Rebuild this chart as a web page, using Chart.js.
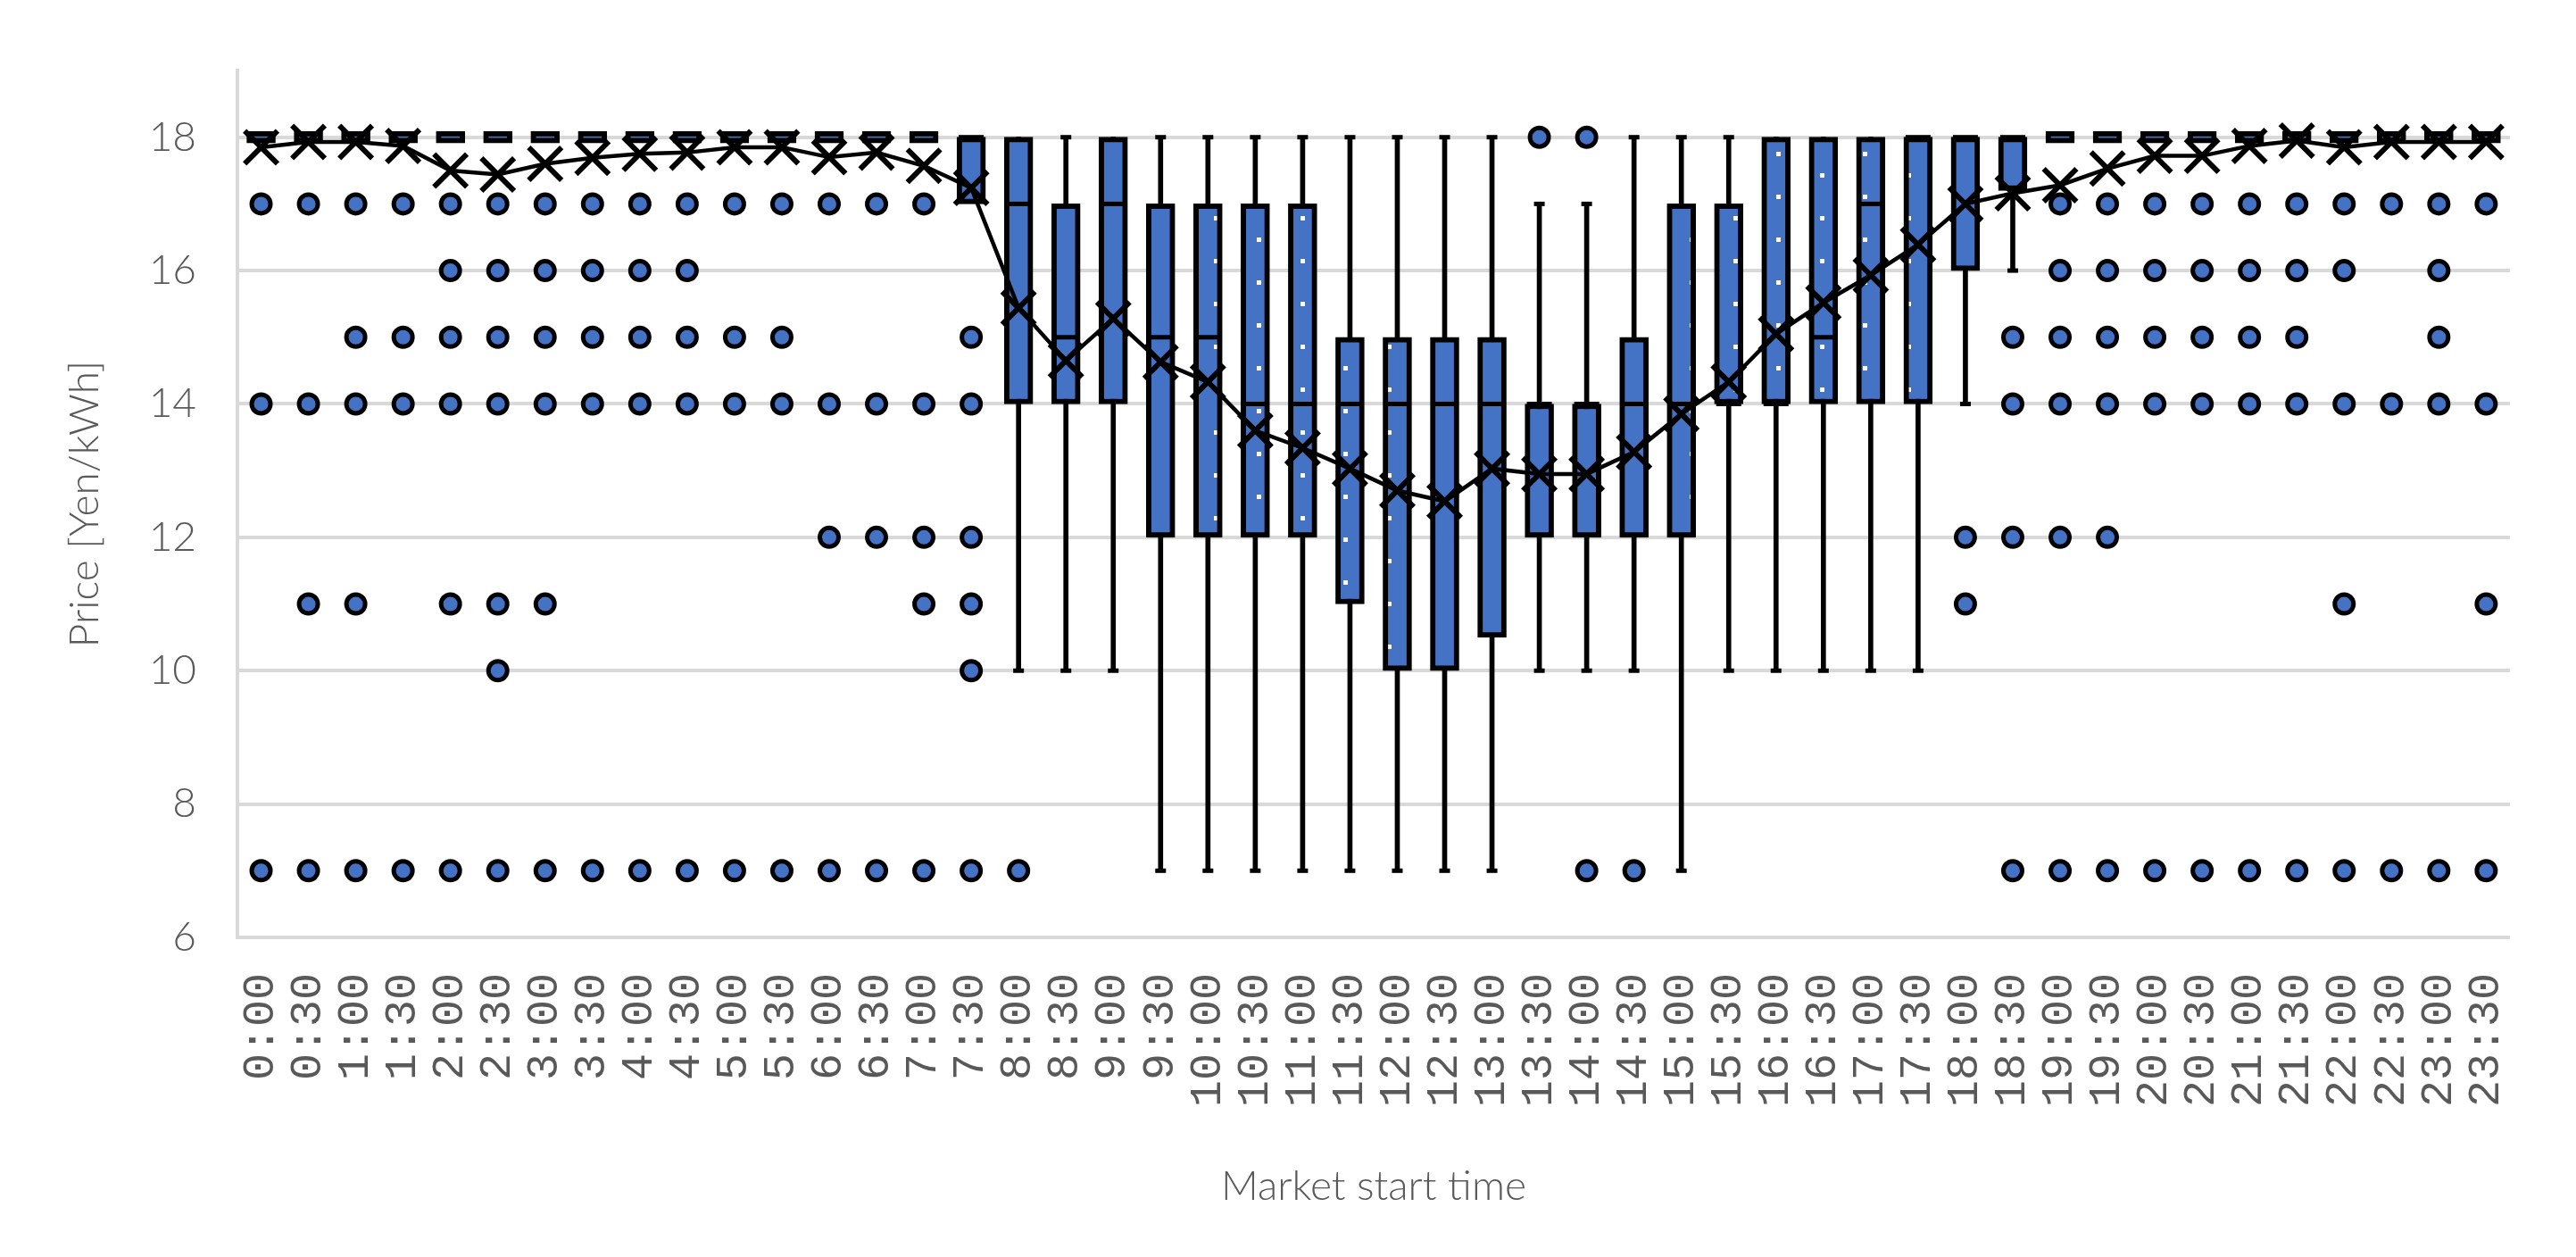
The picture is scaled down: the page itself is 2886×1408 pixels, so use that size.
<!DOCTYPE html>
<html>
<head>
<meta charset="utf-8">
<title>Price by market start time</title>
<script src="https://cdn.jsdelivr.net/npm/chart.js@4.4.1/dist/chart.umd.min.js"></script>
<style>
  html, body { margin: 0; padding: 0; background: #ffffff; }
  #wrap { width: 2886px; height: 1408px; }
</style>
</head>
<body>
<div id="wrap"><canvas id="chart" width="2886" height="1408"></canvas></div>
<script>
var times = ['0:00', '0:30', '1:00', '1:30', '2:00', '2:30', '3:00', '3:30', '4:00', '4:30', '5:00', '5:30',
    '6:00', '6:30', '7:00', '7:30', '8:00', '8:30', '9:00', '9:30', '10:00', '10:30', '11:00', '11:30',
    '12:00', '12:30', '13:00', '13:30', '14:00', '14:30', '15:00', '15:30', '16:00', '16:30', '17:00', '17:30',
    '18:00', '18:30', '19:00', '19:30', '20:00', '20:30', '21:00', '21:30', '22:00', '22:30', '23:00', '23:30'];

// box: first and third quartile
var boxLow = [18, 18, 18, 18, 18, 18, 18, 18, 18, 18, 18, 18, 18, 18, 18, 17,
    14, 14, 14, 12, 12, 12, 12, 11, 10, 10, 10.5, 12, 12, 12, 12, 14, 14, 14, 14, 14, 16, 17.2,
    18, 18, 18, 18, 18, 18, 18, 18, 18, 18];
var boxHigh = [18, 18, 18, 18, 18, 18, 18, 18, 18, 18, 18, 18, 18, 18, 18, 18,
    18, 17, 18, 17, 17, 17, 17, 15, 15, 15, 15, 14, 14, 15, 17, 17, 18, 18, 18, 18, 18, 18,
    18, 18, 18, 18, 18, 18, 18, 18, 18, 18];
var medians = [null, null, null, null, null, null, null, null, null, null, null, null, null, null, null, 18,
    17, 15, 17, 15, 15, 14, 14, 14, 14, 14, 14, 14, 14, 14, 14, 14, 14, 15, 17, 18, 18, 18,
    null, null, null, null, null, null, null, null, null, null];
var whiskerLow = [null, null, null, null, null, null, null, null, null, null, null, null, null, null, null, null,
    10, 10, 10, 7, 7, 7, 7, 7, 7, 7, 7, 10, 10, 10, 7, 10, 10, 10, 10, 10, 14, 16,
    null, null, null, null, null, null, null, null, null, null];
var whiskerHigh = [null, null, null, null, null, null, null, null, null, null, null, null, null, null, null, null,
    18, 18, 18, 18, 18, 18, 18, 18, 18, 18, 18, 17, 17, 18, 18, 18, 18, 18, 18, 18, 18, 18,
    null, null, null, null, null, null, null, null, null, null];
var means = [17.85, 17.93, 17.93, 17.87, 17.5, 17.44, 17.6, 17.69, 17.75, 17.77, 17.85, 17.85, 17.7, 17.77, 17.57, 17.24,
    15.44, 14.65, 15.28, 14.63, 14.33, 13.6, 13.34, 13.03, 12.7, 12.54, 13.03, 12.95, 12.95, 13.28, 13.85, 14.33,
    15.05, 15.52, 15.93, 16.39, 17.0, 17.16, 17.28, 17.53, 17.72, 17.72, 17.87, 17.95, 17.85, 17.93, 17.93, 17.93];
var outliers = [
    [17, 14, 7], [17, 14, 11, 7], [17, 15, 14, 11, 7], [17, 15, 14, 7],
    [17, 16, 15, 14, 11, 7], [17, 16, 15, 14, 11, 10, 7], [17, 16, 15, 14, 11, 7], [17, 16, 15, 14, 7],
    [17, 16, 15, 14, 7], [17, 16, 15, 14, 7], [17, 15, 14, 7], [17, 15, 14, 7],
    [17, 14, 12, 7], [17, 14, 12, 7], [17, 14, 12, 11, 7], [15, 14, 12, 11, 10, 7],
    [7], [], [], [], [], [], [], [],
    [], [], [], [18], [18, 7], [7], [], [],
    [], [], [], [], [12, 11], [15, 14, 12, 7], [17, 16, 15, 14, 12, 7], [17, 16, 15, 14, 12, 7],
    [17, 16, 15, 14, 7], [17, 16, 15, 14, 7], [17, 16, 15, 14, 7], [17, 16, 15, 14, 7],
    [17, 16, 14, 11, 7], [17, 14, 7], [17, 16, 15, 14, 7], [17, 14, 11, 7]
];
var yTicks = [6, 8, 10, 12, 14, 16, 18];

var BLUE = '#4472C4';
var GREY_TEXT = '#595959';
var GRID = '#D9D9D9';

// blue fill with small white dots, like the excel pattern
function dotPattern() {
    var tile = document.createElement('canvas');
    tile.width = 97;
    tile.height = 48;
    var c = tile.getContext('2d');
    c.fillStyle = BLUE;
    c.fillRect(0, 0, 97, 48);
    c.fillStyle = '#ffffff';
    c.fillRect(2, 2, 5, 5);
    c.fillRect(50, 26, 5, 5);
    return c.createPattern(tile, 'repeat');
}

var boxes = times.map(function (t, i) { return [boxLow[i], boxHigh[i]]; });
var whiskers = times.map(function (t, i) {
    return whiskerLow[i] === null ? null : [whiskerLow[i], whiskerHigh[i]];
});

var caps = [];
var dots = [];
times.forEach(function (t, i) {
    if (whiskerLow[i] !== null) {
        if (whiskerHigh[i] > boxHigh[i]) caps.push({x: t, y: whiskerHigh[i]});
        if (whiskerLow[i] < boxLow[i]) caps.push({x: t, y: whiskerLow[i]});
    }
    outliers[i].forEach(function (v) {
        dots.push({x: t, y: v});
    });
});

var ctx = document.getElementById('chart');
var chart = new Chart(ctx, {
    type: 'bar',
    data: {
        labels: times,
        datasets: [
            {
                label: 'Mean',
                type: 'line',
                data: means,
                order: 0,
                borderColor: '#000000',
                borderWidth: 4.5,
                tension: 0,
                pointStyle: 'crossRot',
                pointRadius: 26,
                pointBorderWidth: 6,
                pointBorderColor: '#000000',
                pointBackgroundColor: '#000000'
            },
            {
                label: 'Outliers',
                type: 'line',
                data: dots,
                order: 1,
                showLine: false,
                pointStyle: 'circle',
                pointRadius: 10.5,
                pointBorderWidth: 5,
                pointBorderColor: '#000000',
                pointBackgroundColor: BLUE
            },
            {
                label: 'Caps',
                type: 'line',
                data: caps,
                order: 2,
                showLine: false,
                pointStyle: 'line',
                pointRadius: 6,
                pointBorderWidth: 5,
                pointBorderColor: '#000000'
            },
            {
                label: 'Median',
                type: 'line',
                data: medians,
                order: 3,
                showLine: false,
                pointStyle: 'line',
                pointRadius: 14,
                pointBorderWidth: 5,
                pointBorderColor: '#000000'
            },
            {
                label: 'Box',
                data: boxes,
                order: 4,
                grouped: false,
                barThickness: 32,
                base: 18,
                minBarLength: 13,
                backgroundColor: dotPattern(),
                borderColor: '#000000',
                borderWidth: 6,
                borderSkipped: false
            },
            {
                label: 'Whisker',
                data: whiskers,
                order: 5,
                grouped: false,
                barThickness: 5,
                backgroundColor: '#000000',
                borderWidth: 0
            }
        ]
    },
    options: {
        responsive: false,
        animation: false,
        devicePixelRatio: 1,
        layout: {
            padding: {left: 68, right: 60, top: 79, bottom: 51}
        },
        plugins: {
            legend: {display: false},
            tooltip: {enabled: false}
        },
        scales: {
            x: {
                offset: true,
                grid: {display: false, drawTicks: false},
                border: {display: true, color: GRID, width: 4},
                ticks: {
                    autoSkip: false,
                    minRotation: 90,
                    maxRotation: 90,
                    padding: 40,
                    color: GREY_TEXT,
                    font: {family: '"Liberation Mono", "DejaVu Sans Mono", monospace', size: 50}
                },
                title: {
                    display: true,
                    text: 'Market start time',
                    color: GREY_TEXT,
                    padding: 0,
                    font: {family: 'Lato, "Open Sans", sans-serif', size: 46, weight: '300'}
                },
                afterFit: function (scale) { scale.height = 307; }
            },
            y: {
                min: 6,
                max: 19,
                grid: {color: GRID, lineWidth: 4, drawTicks: false},
                border: {display: true, color: GRID, width: 4},
                afterBuildTicks: function (scale) {
                    scale.ticks = yTicks.map(function (v) { return {value: v}; });
                },
                ticks: {
                    padding: 46,
                    color: GREY_TEXT,
                    font: {family: 'Lato, "Open Sans", sans-serif', size: 46, weight: '300'}
                },
                title: {
                    display: true,
                    text: 'Price [Yen/kWh]',
                    color: GREY_TEXT,
                    padding: 0,
                    font: {family: 'Lato, "Open Sans", sans-serif', size: 46, weight: '300'}
                },
                afterFit: function (scale) { scale.width = 198; }
            }
        }
    }
});
</script>
</body>
</html>
